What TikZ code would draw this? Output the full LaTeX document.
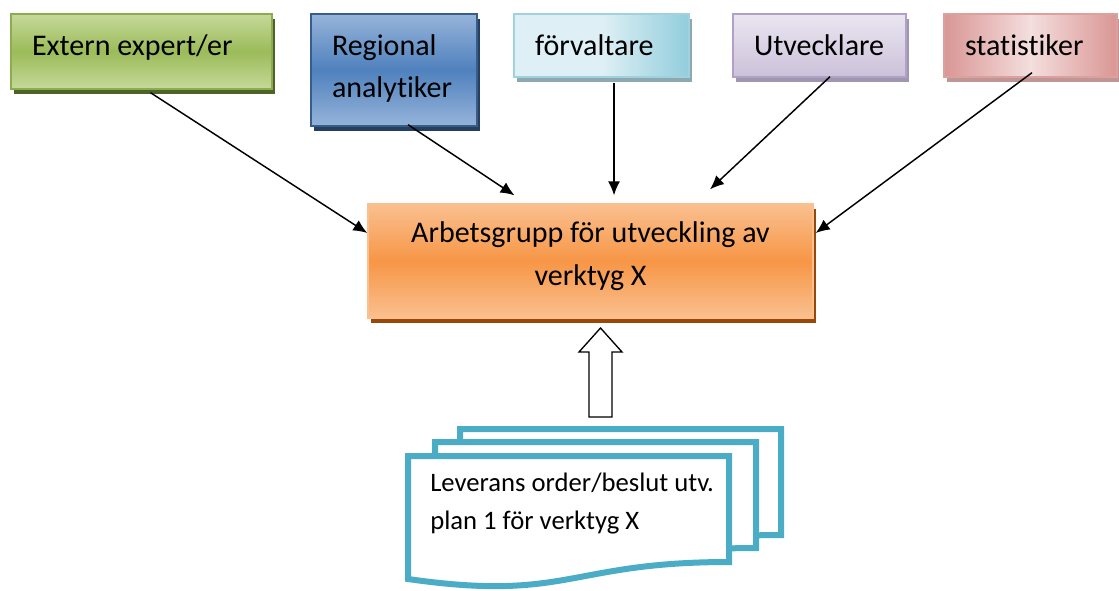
\documentclass[tikz,border=0pt]{standalone}
\usepackage{fontspec}
\setmainfont{Carlito}[Ligatures=CommonOff]
\usepackage{xcolor}
\usetikzlibrary{arrows.meta}
\definecolor{extGreen}{RGB}{155,187,89}
\definecolor{extGreenLight}{RGB}{198,217,154}
\definecolor{extGreenEdge}{RGB}{140,172,80}
\definecolor{extGreenShadow}{RGB}{79,98,40}
\definecolor{regBlue}{RGB}{79,129,189}
\definecolor{regBlueLight}{RGB}{150,180,218}
\definecolor{regBlueEdge}{RGB}{56,93,138}
\definecolor{regBlueShadow}{RGB}{36,63,96}
\definecolor{forvCyan}{RGB}{146,205,220}
\definecolor{forvCyanLight}{RGB}{222,240,245}
\definecolor{forvCyanEdge}{RGB}{160,210,222}
\definecolor{forvCyanShadow}{RGB}{140,168,176}
\definecolor{utvLilac}{RGB}{204,193,218}
\definecolor{utvLilacLight}{RGB}{234,230,240}
\definecolor{utvLilacEdge}{RGB}{178,161,199}
\definecolor{utvLilacShadow}{RGB}{160,150,176}
\definecolor{statRose}{RGB}{217,150,148}
\definecolor{statRoseLight}{RGB}{244,222,222}
\definecolor{statRoseEdge}{RGB}{222,160,158}
\definecolor{statRoseShadow}{RGB}{190,150,150}
\definecolor{grpOrange}{RGB}{247,150,70}
\definecolor{grpOrangeLight}{RGB}{250,192,144}
\definecolor{grpOrangeShadow}{RGB}{152,72,7}
\definecolor{docCyan}{RGB}{75,172,198}
\newdimen\pxunit
\pxunit=0.75pt

% one page of the stacked document symbol
\newcommand{\docpage}[2]{%
  \draw[docline] (#1,#2) -- ++(321,0) -- ++(0,106)
    .. controls +(-160.5,0) and +(160.5,23) .. ++(-321,17) -- cycle;}

\begin{document}
\begin{tikzpicture}[x=0.75pt,y=-0.75pt,
    role/.style={draw, line width=1pt, inner xsep=21\pxunit, inner ysep=0pt, align=left,
      font=\fontsize{22.5}{31}\selectfont},
    shadowed/.style={preaction={fill=#1, transform canvas={shift={(2.3pt,-3.5pt)}}}},
    link/.style={-{Latex[length=10.5pt,width=9pt]}, line width=1.1pt},
    docline/.style={draw=docCyan, line width=4.5pt, fill=white, line join=miter}]

    \useasboundingbox (0,0) rectangle (1119,590);

    % =========================
    % roles on top
    % =========================
    \node[role, shadowed=extGreenShadow, draw=extGreenEdge,
      top color=extGreenLight, bottom color=extGreenLight, middle color=extGreen,
      text depth=10pt,
      minimum width=261\pxunit, minimum height=75\pxunit] (ext) at (141.5,51.5)
      {\makebox[219\pxunit][l]{Extern expert/er}};
    \node[role, shadowed=regBlueShadow, draw=regBlueEdge,
      top color=regBlueLight, bottom color=regBlueLight, middle color=regBlue,
      text width=124\pxunit, text depth=37pt,
      minimum width=166\pxunit, minimum height=112\pxunit] (reg) at (394,70) {Regional\\analytiker};
    \node[role, shadowed=forvCyanShadow, draw=forvCyanEdge,
      left color=forvCyanLight, right color=forvCyan, middle color=forvCyanLight,
      text width=133\pxunit,
      minimum width=175\pxunit, minimum height=63\pxunit] (forv) at (601.5,45.5) {förvaltare};
    \node[role, shadowed=utvLilacShadow, draw=utvLilacEdge,
      top color=utvLilacLight, bottom color=utvLilac,
      text width=131\pxunit,
      minimum width=173\pxunit, minimum height=63\pxunit] (utv) at (819.5,45.5) {Utvecklare};
    \node[role, shadowed=statRoseShadow, draw=statRoseEdge,
      left color=statRose, right color=statRose, middle color=statRoseLight,
      text width=131\pxunit,
      minimum width=173\pxunit, minimum height=63\pxunit] (stat) at (1030.5,45.5) {statistiker};

    % =========================
    % working group
    % =========================
    \node[draw, line width=1pt, inner sep=0pt, align=center, shadowed=grpOrangeShadow,
      draw=grpOrangeLight, top color=grpOrangeLight, bottom color=grpOrangeLight,
      middle color=grpOrange, font=\fontsize{22.5}{32}\selectfont, text depth=11pt,
      minimum width=445\pxunit, minimum height=114\pxunit] (grp) at (590.5,261)
      {Arbetsgrupp för utveckling av\\verktyg X};

    % connectors
    \draw[link] ([shift={(9,3)}]ext.south) -- ([shift={(0,-28)}]grp.west);
    \draw[link] ([shift={(14,-2)}]reg.south) -- ([shift={(-76,-8)}]grp.north);
    \draw[link] ([shift={(12.5,5)}]forv.south) -- ([shift={(23.5,-8)}]grp.north);
    \draw[link] ([shift={(10.5,-1)}]utv.south) -- ([shift={(119.5,-14)}]grp.north);
    \draw[link] ([shift={(1.5,-5)}]stat.south) -- ([shift={(2,-28)}]grp.east);

    % =========================
    % delivery documents
    % =========================
    \docpage{460}{429}
    \docpage{435}{442}
    \docpage{408}{456}
    \node[anchor=west, inner sep=0pt, align=left, font=\fontsize{20}{28}\selectfont]
      (lev) at (430,503.5) {Leverans order/beslut utv.\\plan 1 för verktyg X};

    % hollow arrow up into the group
    \draw[line width=1pt, fill=white] (589,417) -- (589,352) -- (579,352) -- (600.5,328)
      -- (622,352) -- (612,352) -- (612,417) -- cycle;

\end{tikzpicture}
\end{document}
